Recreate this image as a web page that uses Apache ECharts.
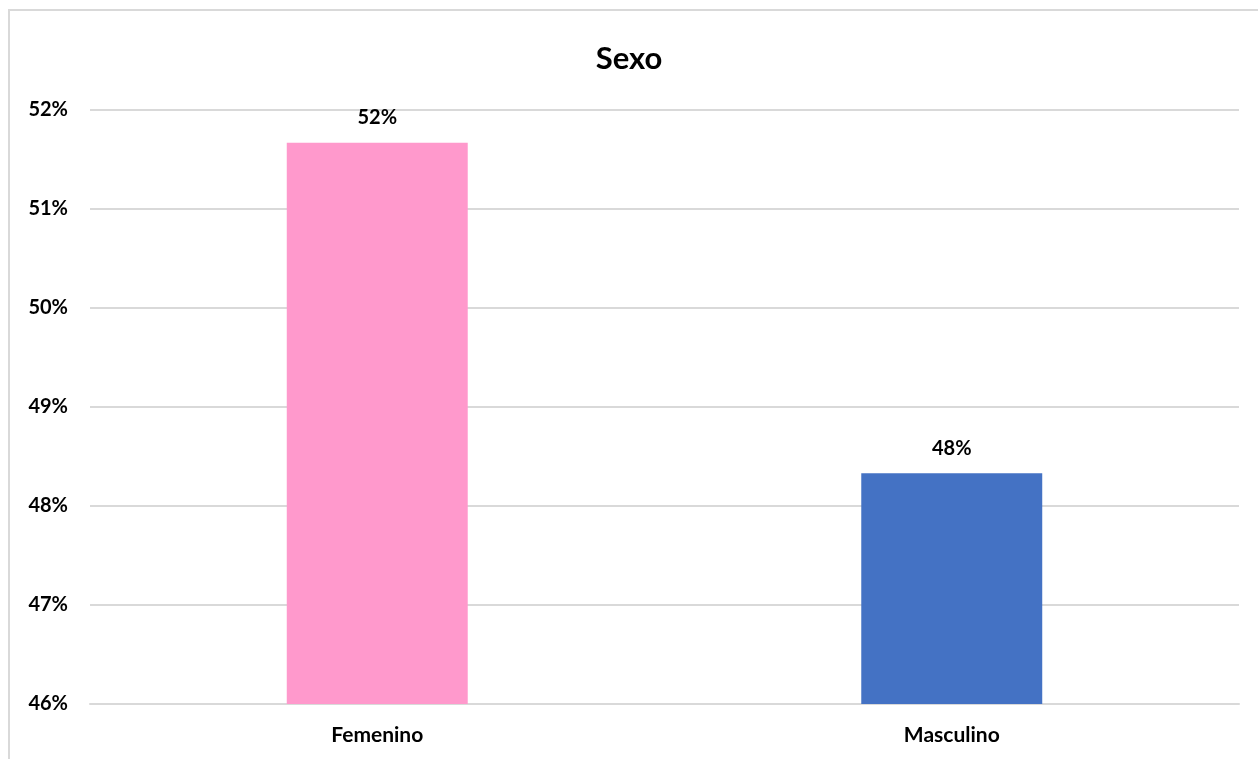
<!DOCTYPE html>
<html>
<head>
<meta charset="utf-8">
<script src="https://cdn.jsdelivr.net/npm/echarts@6/dist/echarts.min.js"></script>
<style>
html,body{margin:0;padding:0;background:#fff;}
#chart{width:1258px;height:759px;}
</style>
</head>
<body>
<div id="chart"></div>
<script>
const categories = ['Femenino', 'Masculino'];
const values = [51.67, 48.33];
const barColors = ['#FF99CC', '#4472C4'];
const titleText = 'Sexo';

const FONT = 'Lato, "Open Sans", sans-serif';
const chart = echarts.init(document.getElementById('chart'));
chart.setOption({
  animation: false,
  backgroundColor: '#fff',
  graphic: [{
    type: 'rect', silent: true, z: -1,
    shape: {x: 9, y: 10, width: 1300, height: 800},
    style: {fill: 'none', stroke: '#d9d9d9', lineWidth: 2}
  }],
  title: {
    text: titleText, left: 'center', top: 38,
    textStyle: {fontFamily: FONT, fontWeight: 'bold', fontSize: 31, color: '#000'}
  },
  grid: {left: 90, right: 19, top: 110, bottom: 55},
  xAxis: {
    type: 'category', data: categories,
    axisLine: {lineStyle: {color: '#d9d9d9', width: 2}},
    axisTick: {show: false},
    axisLabel: {fontFamily: FONT, fontWeight: 'bold', fontSize: 21, color: '#000', margin: 21}
  },
  yAxis: {
    type: 'value', min: 46, max: 52, interval: 1,
    axisLine: {show: false}, axisTick: {show: false},
    splitLine: {lineStyle: {color: '#d9d9d9', width: 2}},
    axisLabel: {formatter: '{value}%', fontFamily: FONT, fontWeight: 'bold', fontSize: 20, color: '#000', margin: 22}
  },
  series: [{
    type: 'bar',
    barWidth: '31.5%',
    data: values.map((v, i) => ({value: v, itemStyle: {color: barColors[i]}})),
    label: {
      show: true, position: 'top', distance: 15,
      formatter: p => Math.round(p.value) + '%',
      fontFamily: FONT, fontWeight: 'bold', fontSize: 20, color: '#000'
    }
  }]
});
</script>
</body>
</html>
